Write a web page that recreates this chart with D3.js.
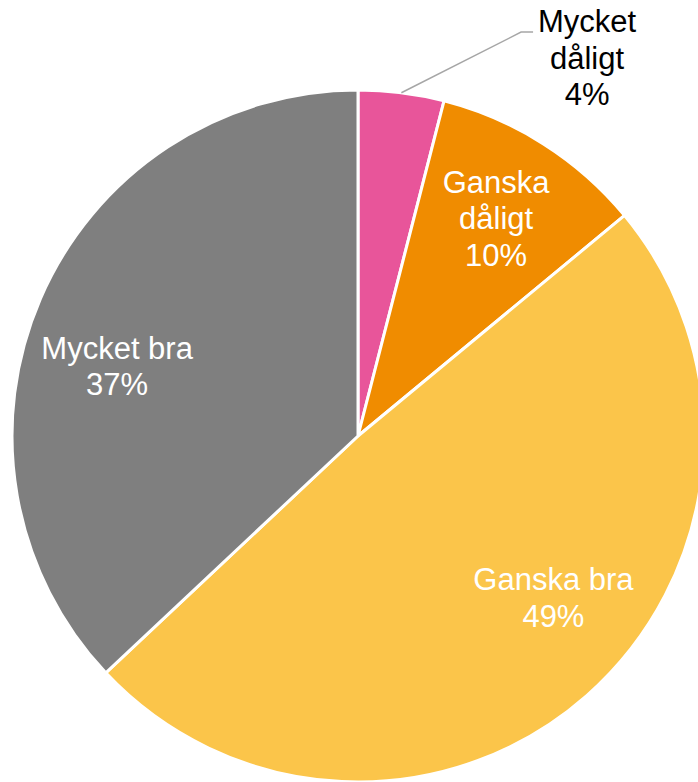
<!DOCTYPE html>
<html>
<head>
<meta charset="utf-8">
<script src="https://cdn.jsdelivr.net/npm/d3@7"></script>
<style>
  html, body { margin: 0; padding: 0; background: #fff; overflow: hidden; }
  svg { display: block; }
</style>
</head>
<body>
<svg id="chart" width="698" height="782"></svg>
<script>
// ---- Data ----
const categories = ["Mycket dåligt", "Ganska dåligt", "Ganska bra", "Mycket bra"];
const values = [4, 10, 49, 37];
const labelLines = [["Mycket", "dåligt"], ["Ganska", "dåligt"], ["Ganska bra"], ["Mycket bra"]];
const percentLabels = ["4%", "10%", "49%", "37%"];

// ---- Styling / layout (separate from data) ----
const colors = ["#E8559A", "#F08C00", "#FBC54A", "#7F7F7F"];
const textColors = ["#000000", "#ffffff", "#ffffff", "#ffffff"];
const outside = [true, false, false, false];
const labelNudgeDeg = [24, 0, -9, -7.2];   // angular shift from slice mid-angle
const labelRadiusFactor = [1.278, 0.745, 0.733, 0.725];

const width = 698, height = 782;
const cx = 358, cy = 436, R = 346;
const fontSize = 31, lineH = 36.5;

const svg = d3.select("#chart");
const g = svg.append("g").attr("transform", `translate(${cx},${cy})`);

const data = categories.map((c, i) => ({ category: c, value: values[i], i }));
const pie = d3.pie().value(d => d.value).sort(null).startAngle(0).endAngle(2 * Math.PI);
const arcs = pie(data);
const arc = d3.arc().innerRadius(0).outerRadius(R);

g.selectAll("path.slice")
  .data(arcs)
  .join("path")
  .attr("class", "slice")
  .attr("d", arc)
  .attr("fill", d => colors[d.data.i])
  .attr("stroke", "#ffffff")
  .attr("stroke-width", 3)
  .attr("stroke-linejoin", "round");

function polar(r, a) { return [r * Math.sin(a), -r * Math.cos(a)]; }

arcs.forEach(d => {
  const i = d.data.i;
  const mid = (d.startAngle + d.endAngle) / 2;
  const a = mid + labelNudgeDeg[i] * Math.PI / 180;
  const [lx, ly] = polar(R * labelRadiusFactor[i], a);
  const lines = labelLines[i].concat([percentLabels[i]]);
  const n = lines.length;

  if (outside[i]) {
    const [sx, sy] = polar(R, mid);
    const firstBase = ly + (0 - (n - 1) / 2) * lineH + 0.35 * fontSize;
    const ey = firstBase;
    const ex = lx - 66, hx = lx - 54;
    g.append("polyline")
      .attr("points", `${sx},${sy} ${ex},${ey} ${hx},${ey}`)
      .attr("fill", "none")
      .attr("stroke", "#A6A6A6")
      .attr("stroke-width", 1.5);
  }

  const t = g.append("text")
    .attr("text-anchor", "middle")
    .attr("font-family", "'Liberation Sans', Arial, sans-serif")
    .attr("font-size", fontSize)
    .attr("fill", textColors[i]);
  lines.forEach((s, k) => {
    t.append("tspan")
      .attr("x", lx)
      .attr("y", ly + (k - (n - 1) / 2) * lineH + 0.35 * fontSize)
      .text(s);
  });
});
</script>
</body>
</html>
